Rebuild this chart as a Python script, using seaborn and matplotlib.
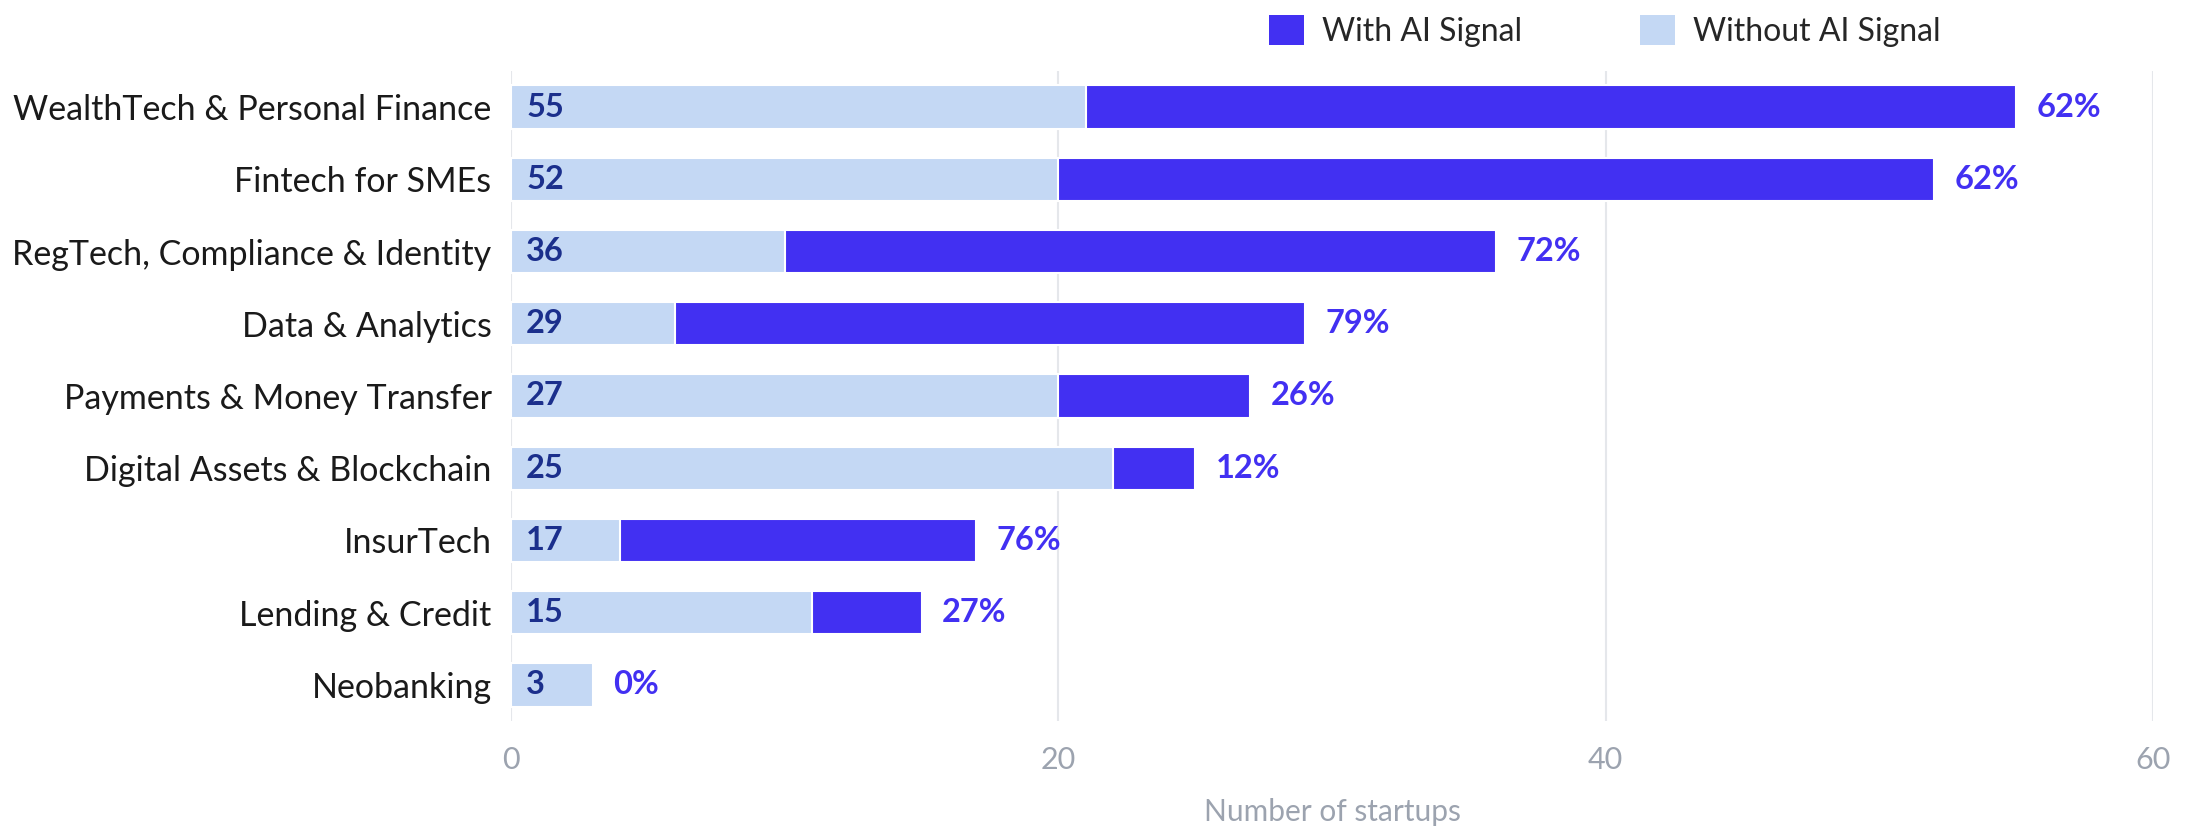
import matplotlib
matplotlib.use("Agg")
import matplotlib.pyplot as plt
import seaborn as sns
import pandas as pd
from matplotlib.patches import Patch

categories = ["WealthTech & Personal Finance", "Fintech for SMEs", "RegTech, Compliance & Identity",
              "Data & Analytics", "Payments & Money Transfer", "Digital Assets & Blockchain",
              "InsurTech", "Lending & Credit", "Neobanking"]
with_ai = [34, 32, 26, 23, 7, 3, 13, 4, 0]
without_ai = [21, 20, 10, 6, 20, 22, 4, 11, 3]
totals = [w + o for w, o in zip(with_ai, without_ai)]
pct_labels = ["62%", "62%", "72%", "79%", "26%", "12%", "76%", "27%", "0%"]
x_ticks = [0, 20, 40, 60]

DARK = "#4230F2"
LIGHT = "#C4D8F4"
NAVY = "#1B2F8C"
GRAY = "#9CA3AF"

sns.set_theme(style="white")
plt.rcParams["font.family"] = ["Lato", "DejaVu Sans"]

df = pd.DataFrame({"category": categories, "total": totals, "without": without_ai})

fig = plt.figure(figsize=(21.97, 8.26), dpi=100)
ax = fig.add_axes([511/2197, 1-721/826, (2153-511)/2197, (721-71)/826])

sns.barplot(data=df, y="category", x="total", color=DARK, orient="h", width=0.6,
            edgecolor="white", linewidth=1.5, saturation=1, ax=ax, zorder=2)
sns.barplot(data=df, y="category", x="without", color=LIGHT, orient="h", width=0.6,
            edgecolor="white", linewidth=1.5, saturation=1, ax=ax, zorder=3)

for i, (t, p) in enumerate(zip(totals, pct_labels)):
    ax.text(0.55, i, str(t), ha="left", va="center", fontsize=23.5, fontweight="bold",
            color=NAVY, zorder=5)
    ax.text(t + 0.75, i, p, ha="left", va="center", fontsize=23.5, fontweight="bold",
            color=DARK, zorder=5)

ax.set_xlim(0, 60)
ax.set_ylim(8.5, -0.5)
ax.set_xticks(x_ticks)
ax.xaxis.grid(True, color="#E5E7EB", linewidth=1.5, zorder=0)
ax.yaxis.grid(False)
ax.set_axisbelow(True)
for s in ax.spines.values():
    s.set_visible(False)
ax.tick_params(axis="y", length=0, pad=14, labelsize=24.5, labelcolor="#1a1a1a")
ax.tick_params(axis="x", length=0, pad=18, labelsize=22, labelcolor=GRAY)
ax.set_ylabel("")
ax.set_xlabel("Number of startups", fontsize=21.5, color=GRAY, labelpad=17)

handles = [Patch(facecolor=DARK, edgecolor="none", label="With AI Signal"),
           Patch(facecolor=LIGHT, edgecolor="none", label="Without AI Signal")]
ax.legend(handles=handles, loc="center", bbox_to_anchor=(0.666, 1.062), ncol=2,
          frameon=False, fontsize=23, handlelength=1.1, handleheight=1.1,
          handletextpad=0.55, columnspacing=3.7)

fig.savefig("out.png", dpi=100)
